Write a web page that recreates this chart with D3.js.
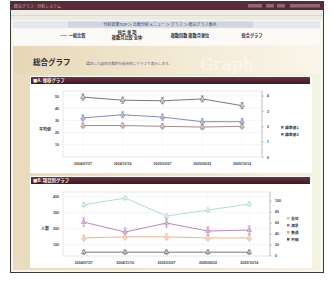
<!doctype html>
<meta charset='utf-8' />
<script src='https://cdn.jsdelivr.net/npm/d3@7'></script>
<style>
    body { margin: 0; background: #fff; }
    svg { display: block; font-family: 'Noto Sans CJK JP', sans-serif; }
</style>
<svg></svg>
<script>
    var width = 334,
        height = 281

    // A. 推移グラフ
    var dates1 = ['2004/07/27', '2004/11/16', '2005/03/07', '2005/06/22', '2005/10/14']
    var avgScore = [49, 46.5, 46, 47.5, 42]
    var indexA = [2.55, 2.75, 2.6, 2.3, 2.3]
    var indexB = [2.05, 2.05, 2.0, 1.95, 2.0]
    var ticks1L = [10, 20, 30, 40, 50]
    var ticks1R = [0, 1, 2, 3, 4]
    var legend1 = ['標準値1', '標準値2']

    // B. 項目別グラフ
    var dates2 = ['2004/07/27', '2004/11/16', '2005/03/07', '2005/06/22', '2005/10/14']
    var total = [350, 392, 280, 317, 355]
    var satisfied = [242, 180, 236, 186, 192]
    var neutral = [32, 34, 34, 32, 32]
    var unknown = [6, 6, 6, 6, 6]
    var ticks2L = [100, 200, 300, 400]
    var ticks2R = [0, 20, 40, 60, 80, 100]
    var legend2 = ['全体', '満足', '普通', '不明']

    var svg = d3.select('svg')
        .attr('width', width)
        .attr('height', height)

    var defs = svg.append('defs')
    var g1 = defs.append('linearGradient').attr('id', 'head')
    g1.append('stop').attr('offset', 0).attr('stop-color', '#e6d7b6')
    g1.append('stop').attr('offset', 0.55).attr('stop-color', '#f3ead4')
    g1.append('stop').attr('offset', 1).attr('stop-color', '#faf6ea')
    var g2 = defs.append('linearGradient').attr('id', 'side')
    g2.append('stop').attr('offset', 0).attr('stop-color', '#e9dcbc')
    g2.append('stop').attr('offset', 1).attr('stop-color', '#f6efdc')
    var g3 = defs.append('linearGradient').attr('id', 'bar').attr('x2', 0).attr('y2', 1)
    g3.append('stop').attr('offset', 0).attr('stop-color', '#6a3440')
    g3.append('stop').attr('offset', 1).attr('stop-color', '#3c1a22')

    // window frame
    svg.append('rect').attr('x', 10.5).attr('y', 1.5).attr('width', 313).attr('height', 271)
        .style('fill', '#f8f5ee').style('stroke', '#3a3a3a')
    svg.append('rect').attr('x', 11).attr('y', 2).attr('width', 312).attr('height', 8).style('fill', '#5a2c38')
    svg.append('text').attr('x', 14).attr('y', 7.5).attr('font-size', 4).style('fill', '#c9b4bb').text('総合グラフ - 分析システム')
    ;[[248, 14], [266, 8], [277, 8], [290, 30]].forEach(b => {
        svg.append('rect').attr('x', b[0]).attr('y', 4).attr('width', b[1]).attr('height', 3.5).style('fill', '#8d6a74')
    })
    svg.append('rect').attr('x', 11).attr('y', 10).attr('width', 312).attr('height', 10).style('fill', '#eeebe4')
    svg.append('line').attr('x1', 11).attr('x2', 323).attr('y1', 15.5).attr('y2', 15.5).style('stroke', '#dcd8cf')

    // nav
    svg.append('rect').attr('x', 13).attr('y', 21).attr('width', 307).attr('height', 7).style('fill', '#e4e9ef')
    svg.append('rect').attr('x', 68).attr('y', 21.5).attr('width', 185).attr('height', 6).style('fill', '#cdd6e2')
    svg.append('text').attr('x', 160).attr('y', 26.2).attr('text-anchor', 'middle').attr('font-size', 4)
        .style('fill', '#3a3f5a').text('分析結果TOP ＞ 比較分析メニュー ＞ グラフ ＞ 総合グラフ表示')
    svg.append('rect').attr('x', 13).attr('y', 29).attr('width', 307).attr('height', 16).style('fill', '#fbfaf7')
    var nav = [
        { x: 77, lines: ['一般比較'] },
        { x: 127, lines: ['総合 単 項', '複数月比較 全体'] },
        { x: 190, lines: ['複数回数 複数月単位'] },
        { x: 252, lines: ['総合グラフ'] }
    ]
    nav.forEach(n => {
        n.lines.forEach((t, i) => {
            svg.append('text').attr('x', n.x).attr('text-anchor', 'middle')
                .attr('y', n.lines.length > 1 ? 34 + i * 5 : 36.5)
                .attr('font-size', 4.2).attr('font-weight', 'bold').style('fill', '#2d2d3a').text(t)
        })
    })
    svg.append('line').attr('x1', 60).attr('x2', 67).attr('y1', 35.5).attr('y2', 35.5).style('stroke', '#777').style('stroke-width', 0.6)

    // header
    svg.append('rect').attr('x', 13).attr('y', 46).attr('width', 307).attr('height', 28).style('fill', 'url(#head)')
    svg.append('text').attr('x', 200).attr('y', 70).attr('font-size', 17).attr('font-family', 'DejaVu Serif')
        .style('fill', '#fff').style('opacity', 0.55).text('Graph')
    svg.append('text').attr('x', 33).attr('y', 64.5).attr('font-size', 7.5).attr('font-weight', 'bold')
        .style('fill', '#2c2a40').text('総合グラフ')
    svg.append('text').attr('x', 86).attr('y', 65).attr('font-size', 3.6)
        .style('fill', '#5a5a78').text('選択した項目の推移を総合的にグラフで表示します。')

    // body
    svg.append('rect').attr('x', 13).attr('y', 74).attr('width', 307).attr('height', 196).style('fill', 'url(#side)')
    svg.append('rect').attr('x', 312).attr('y', 74).attr('width', 8).attr('height', 196).style('fill', '#f2f4df')
    svg.append('rect').attr('x', 30).attr('y', 76).attr('width', 282).attr('height', 97).style('fill', '#fff')
    svg.append('rect').attr('x', 30).attr('y', 176).attr('width', 282).attr('height', 92).style('fill', '#fff')

    function sectionBar(y, label) {
        svg.append('rect').attr('x', 31).attr('y', y).attr('width', 279).attr('height', 7).style('fill', 'url(#bar)')
        svg.append('text').attr('x', 33).attr('y', y + 5.3).attr('font-size', 4.4).attr('font-weight', 'bold')
            .style('fill', '#f4ecee').text(label)
    }
    sectionBar(77, '■A. 推移グラフ')
    sectionBar(177, '■B. 項目別グラフ')

    function chart(o) {
        var x = d3.scaleBand().domain(o.dates).range([o.left, o.right])
        var yL = d3.scaleLinear().domain(o.domL).range([o.bottom, o.top])
        var yR = d3.scaleLinear().domain(o.domR).range([o.bottom, o.top])
        var g = svg.append('g')

        g.append('rect').attr('x', o.left).attr('y', o.top).attr('width', o.right - o.left)
            .attr('height', o.bottom - o.top).style('fill', '#fff').style('stroke', '#d6d6d6').style('stroke-width', 0.6)
        g.selectAll('.hgrid').data(o.ticksL).enter().append('line')
            .attr('x1', o.left).attr('x2', o.right).attr('y1', d => yL(d)).attr('y2', d => yL(d))
            .style('stroke', '#ececec').style('stroke-width', 0.6)
        g.selectAll('.vgrid').data(o.dates).enter().append('line')
            .attr('x1', d => x(d) + x.bandwidth() / 2).attr('x2', d => x(d) + x.bandwidth() / 2)
            .attr('y1', o.top).attr('y2', o.bottom)
            .style('stroke', '#e8e8e8').style('stroke-width', 0.5).style('stroke-dasharray', '1.5,1.5')

        var axL = g.append('g').attr('transform', 'translate(' + (o.left - 1) + ',0)')
            .call(d3.axisLeft(yL).tickValues(o.ticksL).tickSize(0).tickPadding(3))
        var axR = g.append('g').attr('transform', 'translate(' + o.right + ',0)')
            .call(d3.axisRight(yR).tickValues(o.ticksR).tickFormat(d3.format('d')).tickSize(2).tickPadding(3))
        var axX = g.append('g').attr('transform', 'translate(0,' + (o.bottom + 1) + ')')
            .call(d3.axisBottom(x).tickSize(0).tickPadding(4))
        ;[axL, axR, axX].forEach(a => {
            a.select('.domain').remove()
            a.selectAll('text').attr('font-size', 3.6).attr('font-weight', 'bold').style('fill', '#444')
                .attr('font-family', 'Liberation Sans')
            a.selectAll('line').style('stroke', '#999').style('stroke-width', 0.5)
        })
        axR.append('line').attr('y1', o.top).attr('y2', o.bottom).style('stroke', '#999').style('stroke-width', 0.5)

        g.append('text').attr('x', o.left - 18).attr('y', o.labelY).attr('text-anchor', 'middle')
            .attr('font-size', 4).attr('font-weight', 'bold').style('fill', '#333').text(o.axisLabel)

        o.series.forEach(s => {
            var ys = s.axis === 'R' ? yR : yL
            var line = d3.line().x((d, i) => x(o.dates[i]) + x.bandwidth() / 2).y(d => ys(d))
            g.append('path').datum(s.values).attr('d', line)
                .style('fill', 'none').style('stroke', s.color).style('stroke-width', 0.8)
            var pts = g.selectAll(null).data(s.values).enter().append('g')
                .attr('transform', (d, i) => 'translate(' + (x(o.dates[i]) + x.bandwidth() / 2) + ',' + ys(d) + ')')
            pts.append('line').attr('y1', -s.err).attr('y2', s.err)
                .style('stroke', s.color).style('stroke-width', 0.6)
            pts.append('line').attr('x1', -1.5).attr('x2', 1.5).attr('y1', -s.err).attr('y2', -s.err)
                .style('stroke', s.color).style('stroke-width', 0.6)
            pts.append('line').attr('x1', -1.5).attr('x2', 1.5).attr('y1', s.err).attr('y2', s.err)
                .style('stroke', s.color).style('stroke-width', 0.6)
            pts.append('path').attr('d', d3.symbol(d3.symbolTriangle, 9))
                .style('fill', s.fill).style('stroke', s.color).style('stroke-width', 0.5)
        })

        var lg = g.selectAll('.lg').data(o.legend).enter().append('g')
            .attr('transform', (d, i) => 'translate(' + o.legX + ',' + (o.legY + i * o.legStep) + ')')
        lg.append('rect').attr('x', 0).attr('y', -2).attr('width', 2.5).attr('height', 2.5)
            .style('fill', (d, i) => o.series[o.legendFrom + i].color)
        lg.append('text').attr('x', 4).attr('y', 0.5).attr('font-size', 3.8).attr('font-weight', 'bold')
            .style('fill', '#333').text(d => d)
    }

    chart({
        dates: dates1, left: 63, right: 262, top: 91, bottom: 157,
        domL: [0, 54], domR: [0, 4.3], ticksL: ticks1L, ticksR: ticks1R,
        axisLabel: '平均値', labelY: 131,
        series: [
            { values: avgScore, axis: 'L', color: '#555', fill: '#ddd', err: 3 },
            { values: indexA, axis: 'R', color: '#6b6ba6', fill: '#c8c8e8', err: 3 },
            { values: indexB, axis: 'R', color: '#8a6a70', fill: '#e8d0d4', err: 2.5 }
        ],
        legend: legend1, legendFrom: 1, legX: 281, legY: 128, legStep: 7
    })

    chart({
        dates: dates2, left: 63, right: 270, top: 192, bottom: 256,
        domL: [30, 430], domR: [-1, 116], ticksL: ticks2L, ticksR: ticks2R,
        axisLabel: '人数', labelY: 230,
        series: [
            { values: total, axis: 'L', color: '#9fcfd0', fill: '#e4f4f4', err: 2 },
            { values: satisfied, axis: 'L', color: '#a66aa8', fill: '#dcc0e4', err: 4 },
            { values: neutral, axis: 'R', color: '#e3a07c', fill: '#fbe0d0', err: 3 },
            { values: unknown, axis: 'R', color: '#555', fill: '#ccc', err: 2 }
        ],
        legend: legend2, legendFrom: 0, legX: 287, legY: 219, legStep: 7
    })
</script>
